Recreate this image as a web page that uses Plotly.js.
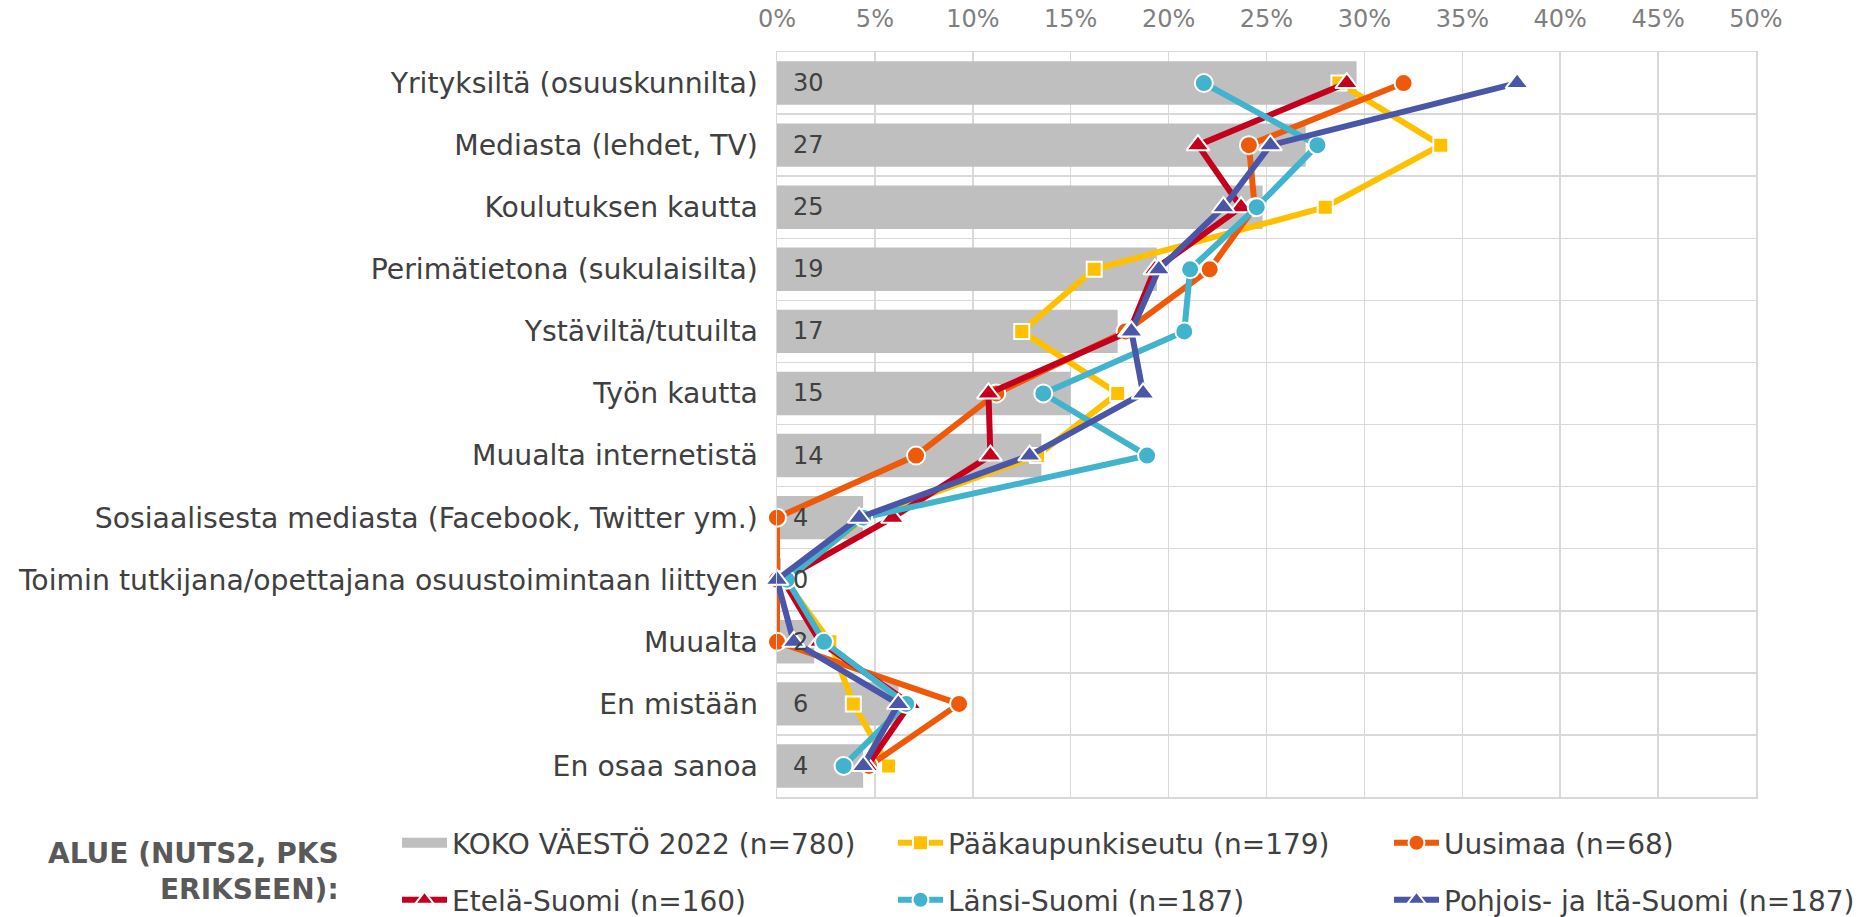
<!DOCTYPE html>
<html>
<head>
<meta charset="utf-8">
<script src="https://cdn.plot.ly/plotly-3.0.1.min.js"></script>
<style>
html,body{margin:0;padding:0;background:#fff;}
#chart{width:1863px;height:917px;}
</style>
</head>
<body>
<div id="chart"></div>
<script>
const categories = [
  "Yrityksiltä (osuuskunnilta)",
  "Mediasta (lehdet, TV)",
  "Koulutuksen kautta",
  "Perimätietona (sukulaisilta)",
  "Ystäviltä/tutuilta",
  "Työn kautta",
  "Muualta internetistä",
  "Sosiaalisesta mediasta (Facebook, Twitter ym.)",
  "Toimin tutkijana/opettajana osuustoimintaan liittyen",
  "Muualta",
  "En mistään",
  "En osaa sanoa"
];
const kokoVaesto = [29.6, 27.0, 24.8, 19.4, 17.4, 15.0, 13.5, 4.4, 0.2, 1.9, 6.2, 4.4];
const paakaupunkiseutu = [28.7, 33.9, 28.0, 16.2, 12.5, 17.4, 13.3, 4.5, 0.4, 2.7, 3.9, 5.7];
const uusimaa = [32.0, 24.1, 24.4, 22.1, 17.8, 11.2, 7.1, 0, 0, 0, 9.3, 4.7];
const etelaSuomi = [29.1, 21.5, 23.7, 19.3, 18.0, 10.8, 10.9, 5.9, 0.3, 2.2, 6.8, 4.6];
const lansiSuomi = [21.8, 27.6, 24.5, 21.1, 20.8, 13.6, 18.9, 4.4, 0.5, 2.4, 6.6, 3.4];
const pohjoisItaSuomi = [37.8, 25.2, 22.8, 19.5, 18.1, 18.7, 12.9, 4.2, 0, 0.85, 6.2, 4.4];

const seriesNames = [
  "KOKO VÄESTÖ 2022 (n=780)",
  "Pääkaupunkiseutu (n=179)",
  "Uusimaa (n=68)",
  "Etelä-Suomi (n=160)",
  "Länsi-Suomi (n=187)",
  "Pohjois- ja Itä-Suomi (n=187)"
];
const xTickSuffix = "%";
const legendHeading = "ALUE (NUTS2, PKS<br>ERIKSEEN):";

const FONT = "DejaVu Sans, Verdana, sans-serif";
const textColor = "#404040";
const barColor = "#BFBFBF";

function lineTrace(name, vals, color, symbol, size, legendId) {
  return {
    type: "scatter",
    mode: "lines+markers",
    name: name,
    x: vals,
    y: categories,
    line: {color: color, width: 6},
    marker: {color: color, symbol: symbol, size: size, line: {color: "#ffffff", width: 2}},
    cliponaxis: false,
    legend: legendId,
    hoverinfo: "skip"
  };
}

const traces = [
  {
    type: "bar",
    orientation: "h",
    name: seriesNames[0],
    x: kokoVaesto,
    y: categories,
    marker: {color: barColor},
    showlegend: false,
    hoverinfo: "skip"
  },
  // legend key only for the bar series (wide grey swatch, like the original); draws nothing
  {
    type: "scatter",
    mode: "lines",
    name: seriesNames[0],
    x: [null],
    y: [null],
    line: {color: barColor, width: 14},
    showlegend: true,
    legend: "legend",
    hoverinfo: "skip"
  },
  lineTrace(seriesNames[1], paakaupunkiseutu, "#FFC000", "square", 15, "legend"),
  lineTrace(seriesNames[2], uusimaa, "#EE5A0A", "circle", 18, "legend"),
  lineTrace(seriesNames[3], etelaSuomi, "#C4001C", "triangle-up", 20, "legend2"),
  lineTrace(seriesNames[4], lansiSuomi, "#41B3CC", "circle", 18, "legend2"),
  lineTrace(seriesNames[5], pohjoisItaSuomi, "#4A56A8", "triangle-up", 20, "legend2")
];

const valueAnnotations = categories.map((c, i) => ({
  x: 0, y: c, xref: "x", yref: "y",
  text: String(Math.round(kokoVaesto[i])),
  xanchor: "left", yanchor: "middle", xshift: 14,
  showarrow: false,
  font: {family: FONT, size: 24, color: textColor}
}));

const plotL = 777, plotR = 1756, plotT = 52, plotB = 797;
const W = 1863, H = 917;
const pw = plotR - plotL, ph = plotB - plotT;
const px2x = p => (p - plotL) / pw;
const py2y = p => (plotB - p) / ph;

const legendCommon = {
  orientation: "h",
  xanchor: "left",
  yanchor: "middle",
  entrywidth: 436,
  entrywidthmode: "pixels",
  itemwidth: 45,
  traceorder: "normal",
  bgcolor: "rgba(0,0,0,0)",
  font: {family: FONT, size: 28, color: textColor}
};

const layout = {
  width: W,
  height: H,
  paper_bgcolor: "#ffffff",
  plot_bgcolor: "#ffffff",
  margin: {l: plotL, r: W - plotR, t: plotT, b: H - plotB, autoexpand: false},
  font: {family: FONT, color: textColor},
  bargap: 0.3,
  showlegend: true,
  xaxis: {
    side: "top",
    range: [0, 50],
    tick0: 0,
    dtick: 5,
    ticksuffix: xTickSuffix,
    showgrid: true,
    gridcolor: "#D9D9D9",
    gridwidth: 1.5,
    zeroline: false,
    showline: true,
    mirror: true,
    linecolor: "#D9D9D9",
    linewidth: 1.5,
    ticks: "",
    ticklabelstandoff: 14,
    tickfont: {family: FONT, size: 24, color: "#7F7F7F"},
    fixedrange: true
  },
  yaxis: {
    type: "category",
    range: [categories.length - 0.5, -0.5],
    tickson: "boundaries",
    showgrid: true,
    gridcolor: "#D9D9D9",
    gridwidth: 1.5,
    zeroline: false,
    showline: true,
    mirror: true,
    linecolor: "#D9D9D9",
    linewidth: 1.5,
    ticks: "",
    ticklabelstandoff: 12,
    tickfont: {family: FONT, size: 28.3, color: textColor},
    fixedrange: true
  },
  legend: Object.assign({}, legendCommon, {x: px2x(397), y: py2y(843)}),
  legend2: Object.assign({}, legendCommon, {x: px2x(397), y: py2y(900)}),
  annotations: valueAnnotations.concat([{
    xref: "paper", yref: "paper",
    x: px2x(341), y: py2y(871),
    xanchor: "right", yanchor: "middle", align: "right",
    text: legendHeading,
    showarrow: false,
    font: {family: FONT, size: 28, color: "#595959", weight: "bold"}
  }])
};

Plotly.newPlot("chart", traces, layout, {displayModeBar: false, staticPlot: true});
</script>
</body>
</html>
